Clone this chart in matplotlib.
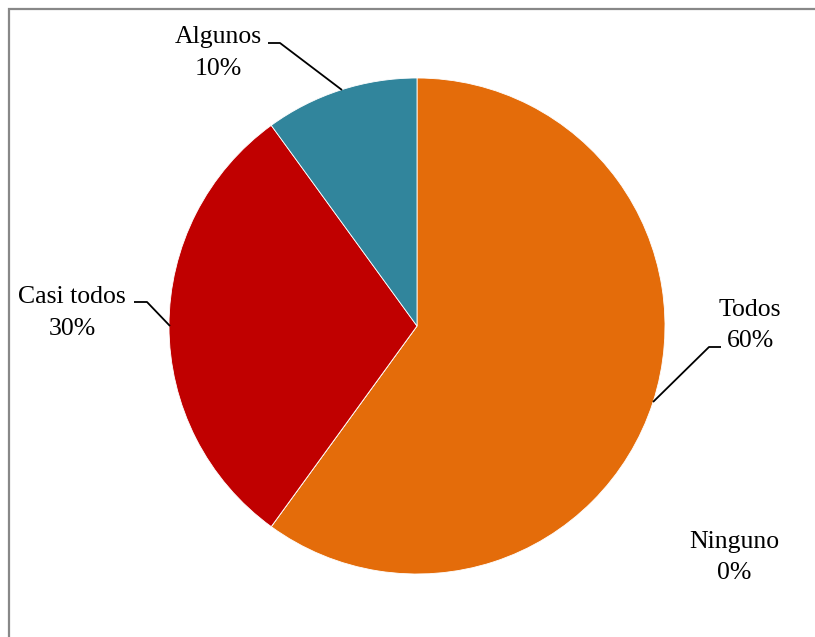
import matplotlib
matplotlib.use("Agg")
import matplotlib.pyplot as plt
from matplotlib.patches import Rectangle

categories = ["Todos", "Ninguno", "Casi todos", "Algunos"]
values = [60, 0, 30, 10]
colors = ["#E46C0A", "#E46C0A", "#C00000", "#31859C"]

W, H = 815, 637
fig = plt.figure(figsize=(W / 100, H / 100), dpi=100)
ax = fig.add_axes([0, 0, 1, 1])
ax.set_xlim(0, W)
ax.set_ylim(0, H)
ax.axis("off")

def Y(y):
    return H - y

cx, cy, r = 417, 326, 248
ax.pie(values, colors=colors, startangle=90, counterclock=False,
       center=(cx, Y(cy)), radius=r,
       wedgeprops=dict(edgecolor="white", linewidth=0.6))
ax.set_xlim(0, W)
ax.set_ylim(0, H)
ax.set_aspect("auto")

# border
ax.add_patch(Rectangle((8.5, Y(8.5) - H), W, H, fill=False,
                       edgecolor="#888888", linewidth=1.6, zorder=10))

font = dict(family="Liberation Serif", fontsize=18.5, color="black")

# label layout: (x center, baseline1, baseline2)
label_pos = {
    "Algunos": (218, 43, 75),
    "Casi todos": (72, 303, 335),
    "Todos": (750, 316, 347),
    "Ninguno": (734, 548, 579),
}
leaders = {
    "Algunos": [(268, 43), (280, 43), (342, 90)],
    "Casi todos": [(134, 302), (147, 302), (170, 326)],
    "Todos": [(721, 347), (709, 347), (653, 402)],
}

for cat, val in zip(categories, values):
    x, b1, b2 = label_pos[cat]
    ax.text(x, Y(b1), cat, ha="center", va="baseline", **font)
    ax.text(x, Y(b2), f"{val}%", ha="center", va="baseline", **font)
    if cat in leaders:
        pts = leaders[cat]
        ax.plot([p[0] for p in pts], [Y(p[1]) for p in pts],
                color="black", linewidth=1.3, solid_capstyle="butt")

fig.savefig("out.png", dpi=100, facecolor="white")
